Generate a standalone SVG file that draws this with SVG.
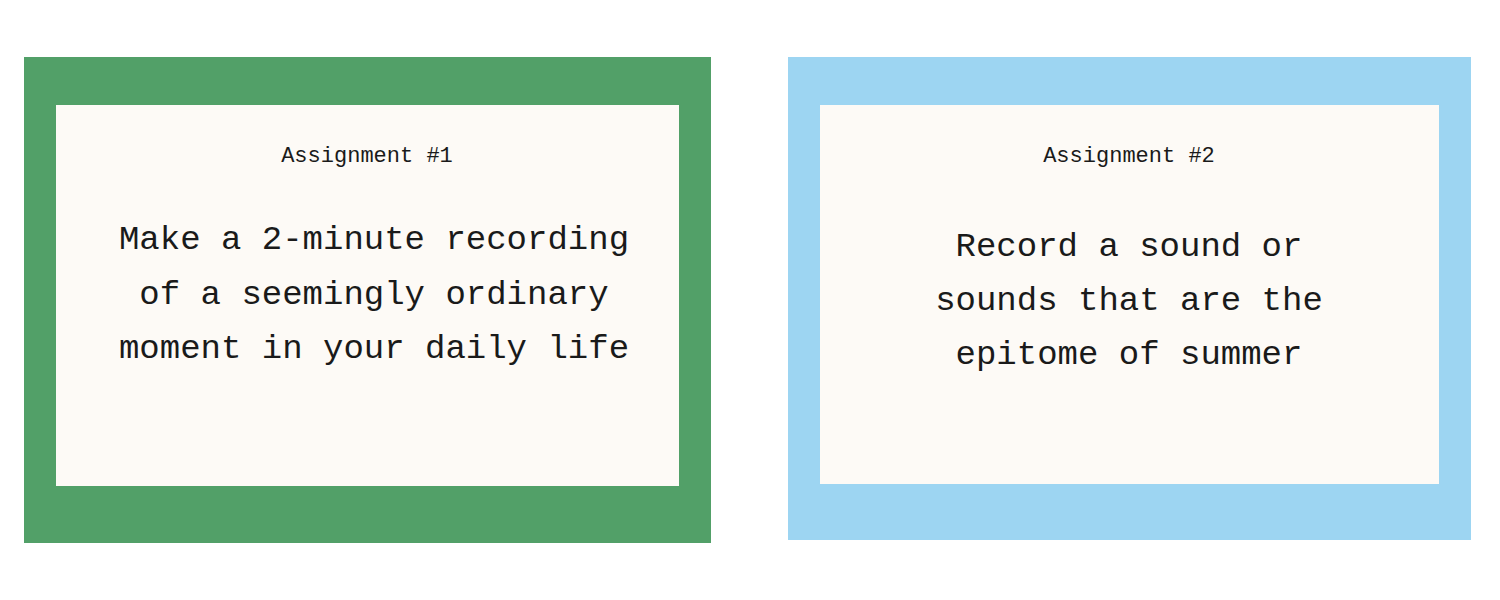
<svg xmlns="http://www.w3.org/2000/svg" width="1500" height="600" viewBox="0 0 1500 600">
<style>
.inner{fill:#FDFAF6}
.t{font-family:"Liberation Mono",monospace;fill:#1a1a1a;text-anchor:middle}
.h{font-size:22px}
.b{font-size:34px}
</style>
<rect width="1500" height="600" fill="#fff"/>
<g id="card1">
<rect x="24" y="57" width="687" height="486" fill="#52A068"/>
<rect class="inner" x="56" y="105" width="623" height="381"/>
<text class="t h" x="367" y="162">Assignment #1</text>
<text class="t b" x="374" y="249">Make a 2-minute recording</text>
<text class="t b" x="374" y="304">of a seemingly ordinary</text>
<text class="t b" x="374" y="358">moment in your daily life</text>
</g>
<g id="card2">
<rect x="788" y="57" width="683" height="483" fill="#9DD5F2"/>
<rect class="inner" x="820" y="105" width="619" height="379"/>
<text class="t h" x="1129" y="162">Assignment #2</text>
<text class="t b" x="1129" y="256">Record a sound or</text>
<text class="t b" x="1129" y="310">sounds that are the</text>
<text class="t b" x="1129" y="364">epitome of summer</text>
</g>
<g id="connectors"/>
</svg>
